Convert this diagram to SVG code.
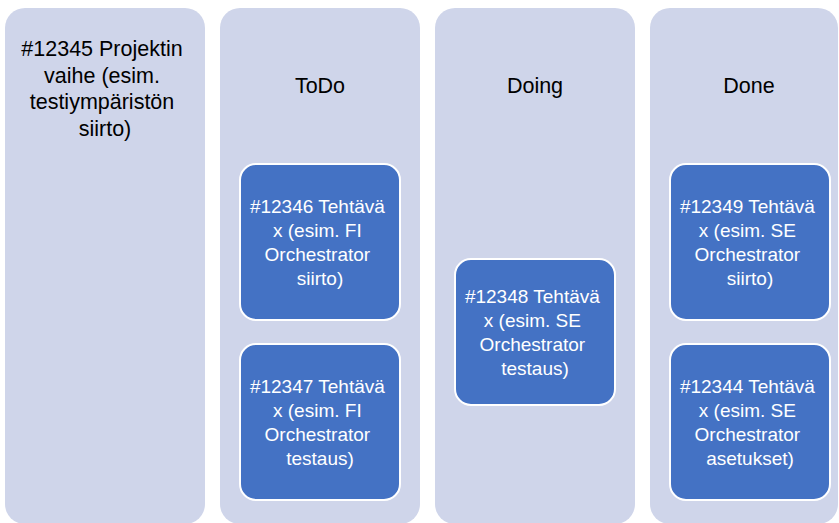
<svg xmlns="http://www.w3.org/2000/svg" width="839" height="523" viewBox="0 0 839 523">
  <style>
    .lane { fill: #CFD5EA; }
    .card { fill: #4472C4; stroke: #FFFFFF; stroke-width: 2; }
    .lane-text { font-family: "Liberation Sans", Arial, sans-serif; font-size: 21.5px; fill: #000000; text-anchor: middle; }
    .card-text { font-family: "Liberation Sans", Arial, sans-serif; font-size: 19px; fill: #FFFFFF; text-anchor: middle; }
  </style>
  <rect width="839" height="523" fill="#FFFFFF"/>

  <!-- Lanes -->
  <g id="phase">
    <rect class="lane" x="5" y="8" width="200" height="516" rx="20"/>
    <text class="lane-text">
      <tspan x="105" y="56">#12345 Projektin</tspan>
      <tspan x="105" y="82.5">vaihe (esim.</tspan>
      <tspan x="105" y="109">testiympäristön</tspan>
      <tspan x="105" y="135.5">siirto)</tspan>
    </text>
  </g>
  <g id="todo">
    <rect class="lane" x="220" y="8" width="200" height="516" rx="20"/>
    <text class="lane-text" x="320" y="93">ToDo</text>
  </g>
  <g id="doing">
    <rect class="lane" x="435" y="8" width="200" height="516" rx="20"/>
    <text class="lane-text" x="535" y="93">Doing</text>
  </g>
  <g id="done">
    <rect class="lane" x="650" y="8" width="188" height="516" rx="20"/>
    <text class="lane-text" x="749" y="93">Done</text>
  </g>

  <!-- Cards -->
  <g id="task-12346">
    <rect class="card" x="240" y="164" width="160" height="156" rx="16"/>
    <text class="card-text">
      <tspan x="320" y="213">#12346 Tehtävä</tspan>
      <tspan x="320" y="237">x (esim. FI</tspan>
      <tspan x="320" y="261">Orchestrator</tspan>
      <tspan x="320" y="285">siirto)</tspan>
    </text>
  </g>
  <g id="task-12347">
    <rect class="card" x="240" y="344" width="160" height="156" rx="16"/>
    <text class="card-text">
      <tspan x="320" y="393">#12347 Tehtävä</tspan>
      <tspan x="320" y="417">x (esim. FI</tspan>
      <tspan x="320" y="441">Orchestrator</tspan>
      <tspan x="320" y="465">testaus)</tspan>
    </text>
  </g>
  <g id="task-12348">
    <rect class="card" x="455" y="259" width="160" height="146" rx="16"/>
    <text class="card-text">
      <tspan x="535" y="303">#12348 Tehtävä</tspan>
      <tspan x="535" y="327">x (esim. SE</tspan>
      <tspan x="535" y="351">Orchestrator</tspan>
      <tspan x="535" y="375">testaus)</tspan>
    </text>
  </g>
  <g id="task-12349">
    <rect class="card" x="670" y="164" width="160" height="156" rx="16"/>
    <text class="card-text">
      <tspan x="750" y="213">#12349 Tehtävä</tspan>
      <tspan x="750" y="237">x (esim. SE</tspan>
      <tspan x="750" y="261">Orchestrator</tspan>
      <tspan x="750" y="285">siirto)</tspan>
    </text>
  </g>
  <g id="task-12344">
    <rect class="card" x="670" y="344" width="160" height="156" rx="16"/>
    <text class="card-text">
      <tspan x="750" y="393">#12344 Tehtävä</tspan>
      <tspan x="750" y="417">x (esim. SE</tspan>
      <tspan x="750" y="441">Orchestrator</tspan>
      <tspan x="750" y="465">asetukset)</tspan>
    </text>
  </g>

  <!-- No connectors in this board -->
  <g id="connectors"/>
</svg>
